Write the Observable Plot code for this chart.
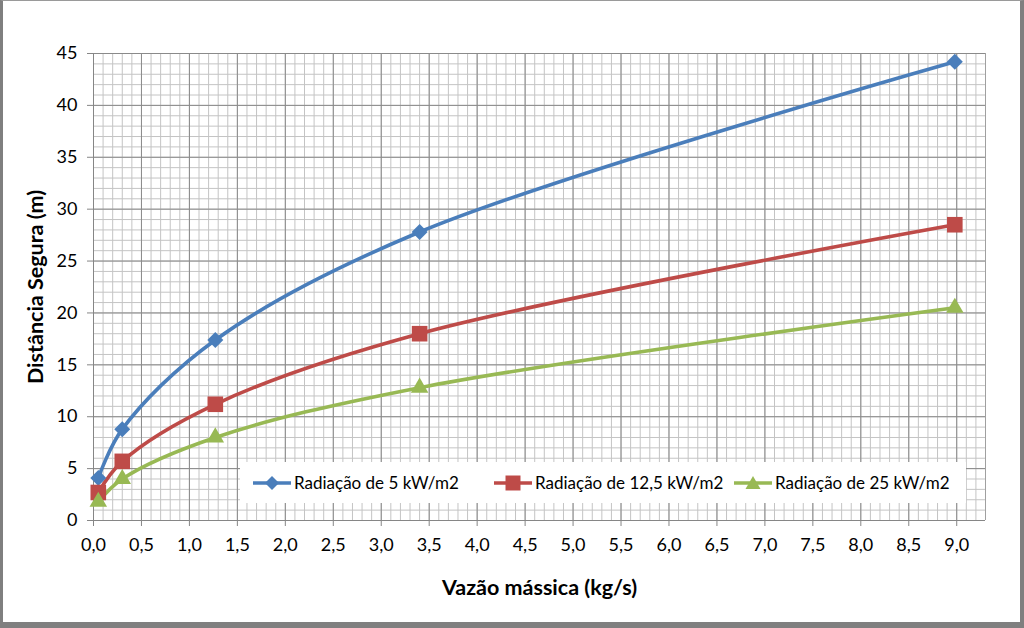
<!DOCTYPE html>
<html>
<head>
<meta charset="utf-8">
<script src="https://cdn.jsdelivr.net/npm/d3@7"></script>
<script src="https://cdn.jsdelivr.net/npm/@observablehq/plot@0.6"></script>
<style>
  html, body { margin: 0; padding: 0; background: #fff; }
  #wrap { position: relative; width: 1024px; height: 628px; overflow: hidden; font-family: Lato, "Open Sans", sans-serif; }
  #wrap svg.plot { position: absolute; left: 0; top: 0; }
  #frame { position: absolute; left: 0; top: 0; width: 1024px; height: 628px; box-sizing: border-box;
           border-left: 3px solid #7f7f7f; border-top: 1px solid #9a9a9a; border-right: 4px solid #7f7f7f; border-bottom: 6px solid #7f7f7f; pointer-events: none; }
  #legend { position: absolute; left: 240px; top: 462px; width: 726px; height: 41px; background: #fff; box-sizing: border-box;
            padding-left: 12px; display: grid; grid-template-columns: 241px 240px 233px; align-items: center; font-size: 17px; color: #000; }
  .item { display: flex; align-items: center; white-space: nowrap; }
  .item svg { margin-right: 2px; }
  g[aria-label="y-axis label"] text, g[aria-label="x-axis label"] text { font-weight: bold; font-size: 21.5px; }
</style>
</head>
<body>
<div id="wrap"></div>
<script>
// ---- data ----
const vazao = [0.05, 0.3, 1.27, 3.4, 8.98];
const dist5 = [4.1, 8.8, 17.4, 27.8, 44.2];
const dist12 = [2.7, 5.7, 11.2, 18.0, 28.5];
const dist25 = [1.8, 4.0, 8.0, 12.8, 20.5];
const seriesNames = ["Radiação de 5 kW/m2", "Radiação de 12,5 kW/m2", "Radiação de 25 kW/m2"];
const seriesColors = ["#4a7ebb", "#be4b48", "#98b954"];
const seriesSymbols = ["diamond2", "square", "triangle"];
const seriesR = [7.2, 8.8, 6.5];
const xMajorTicks = [0, 0.5, 1, 1.5, 2, 2.5, 3, 3.5, 4, 4.5, 5, 5.5, 6, 6.5, 7, 7.5, 8, 8.5, 9];
const yMajorTicks = [0, 5, 10, 15, 20, 25, 30, 35, 40, 45];
const xMinorGrid = d3.range(0, 94).map(i => i / 10);
const yMinorGrid = d3.range(0, 46);

const seriesValues = [dist5, dist12, dist25];
const rows = seriesValues.map((vals, s) => vals.map((v, i) => ({series: seriesNames[s], x: vazao[i], y: v})));

const fmt = d => d.toFixed(1).replace(".", ",");

const marks = [
  Plot.ruleX(xMinorGrid, {stroke: "#c4c4c4", strokeWidth: 1}),
  Plot.ruleY(yMinorGrid, {stroke: "#c4c4c4", strokeWidth: 1}),
  Plot.ruleX(xMajorTicks, {stroke: "#8a8a8a", strokeWidth: 1}),
  Plot.ruleY(yMajorTicks, {stroke: "#8a8a8a", strokeWidth: 1}),
  Plot.ruleX([9.3], {stroke: "#a0a0a0"}),
  Plot.axisX({ticks: xMajorTicks, tickFormat: fmt, tickSize: 6, tickPadding: 12, stroke: "#868686",
    label: "Vazão mássica (kg/s)", labelAnchor: "center", labelArrow: "none", labelOffset: 74, fontSize: 18}),
  Plot.axisY({ticks: yMajorTicks, tickFormat: d => String(d), tickSize: 6, tickPadding: 10, stroke: "#868686",
    label: "Distância Segura (m)", labelAnchor: "center", labelArrow: "none", labelOffset: 66, fontSize: 18}),
  Plot.ruleX([0], {stroke: "#868686"}),
  Plot.ruleY([0], {stroke: "#868686"})
];
rows.forEach((data, s) => {
  marks.push(Plot.line(data, {x: "x", y: "y", stroke: seriesColors[s], strokeWidth: 3.6, curve: "catmull-rom"}));
});
rows.forEach((data, s) => {
  marks.push(Plot.dot(data, {x: "x", y: "y", symbol: () => seriesSymbols[s], r: seriesR[s], fill: seriesColors[s], stroke: "none"}));
});

const chart = Plot.plot({
  width: 1024,
  height: 628,
  marginLeft: 93,
  marginRight: 39,
  marginTop: 53,
  marginBottom: 108,
  style: {fontFamily: "Lato, 'Open Sans', sans-serif", fontSize: "18px", color: "#000", background: "transparent"},
  x: {domain: [0, 9.3]},
  y: {domain: [0, 45]},
  symbol: {type: "identity"},
  marks
});
const wrap = document.getElementById("wrap");
wrap.appendChild(chart);

// legend
const legend = document.createElement("div");
legend.id = "legend";
const symPaths = {
  diamond2: "M0,-7L7,0L0,7L-7,0Z",
  square: "M-7.5,-7.5H7.5V7.5H-7.5Z",
  triangle: "M0,-7L7.5,6H-7.5Z"
};
seriesNames.forEach((name, s) => {
  const item = document.createElement("div");
  item.className = "item";
  item.innerHTML = `<svg width="40" height="18" viewBox="-20 -9 40 18"><line x1="-19" x2="19" y1="0" y2="0" stroke="${seriesColors[s]}" stroke-width="3.6"/><path d="${symPaths[seriesSymbols[s]]}" fill="${seriesColors[s]}"/></svg><span>${name}</span>`;
  legend.appendChild(item);
});
wrap.appendChild(legend);
const frame = document.createElement("div");
frame.id = "frame";
wrap.appendChild(frame);
</script>
</body>
</html>
